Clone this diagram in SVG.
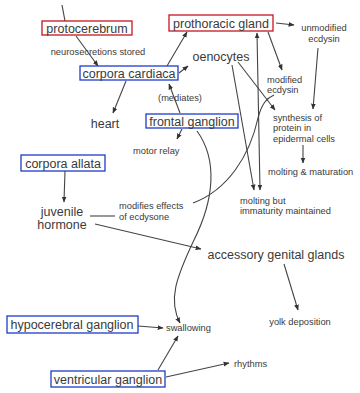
<svg xmlns="http://www.w3.org/2000/svg" width="360" height="393" viewBox="0 0 360 393">
<defs>
<marker id="ah" viewBox="0 0 10 10" refX="9" refY="5" markerWidth="6" markerHeight="6" orient="auto-start-reverse" markerUnits="userSpaceOnUse">
<path d="M0,1 L10,5 L0,9 z" fill="#333"/>
</marker>
<style>
.t{font-family:"Liberation Sans",Arial,sans-serif;fill:#3a3a3a;}
.big{font-size:12.5px;}
.sm{font-size:9.3px;}
.rb{fill:#fff;stroke:#c8141e;stroke-width:1.3;}
.bb{fill:#fff;stroke:#1e3cc8;stroke-width:1.3;}
.c{fill:none;stroke:#444;stroke-width:1.1;}
.a{marker-end:url(#ah);}
</style>
</defs>
<rect width="360" height="393" fill="#fff"/>
<g id="connectors">
<line class="c" x1="62" y1="5" x2="65" y2="21"/>
<line class="c a" x1="76" y1="36" x2="98" y2="66"/>
<line class="c a" x1="126" y1="81" x2="113" y2="113"/>
<line class="c a" x1="167" y1="66" x2="187" y2="32"/>
<line class="c a" x1="179" y1="73" x2="188" y2="66"/>
<line class="c a" x1="180" y1="113" x2="169" y2="84"/>
<line class="c a" x1="182" y1="129" x2="177" y2="139"/>
<line class="c a" x1="276" y1="23" x2="294" y2="25"/>
<line class="c a" x1="318" y1="48" x2="313" y2="109"/>
<line class="c a" x1="268" y1="32" x2="282" y2="70"/>
<line class="c a" x1="238" y1="62" x2="275" y2="110"/>
<line class="c a" x1="232" y1="65" x2="254" y2="190"/>
<path class="c a" d="M260,190 L257,33" marker-start="url(#ah)"/>
<path class="c" d="M193,203 C228,190 250,155 258,118 C262,103 267,98 274,95"/>
<path class="c a" d="M197,131 C218,160 214,200 194,240 C176,278 168,300 180,323"/>
<line class="c" x1="90" y1="216" x2="115" y2="216"/>
<line class="c a" x1="95" y1="224" x2="201" y2="249"/>
<line class="c a" x1="65" y1="171" x2="64" y2="202"/>
<line class="c a" x1="303" y1="145" x2="303" y2="163"/>
<line class="c a" x1="284" y1="264" x2="298" y2="310"/>
<line class="c a" x1="138" y1="326" x2="163" y2="328"/>
<line class="c a" x1="158" y1="370" x2="178" y2="336"/>
<line class="c a" x1="166" y1="377" x2="229" y2="363"/>
</g>
<g id="protocerebrum">
<rect class="rb" x="42" y="21" width="90" height="14"/>
<text class="t big" x="87" y="32.5" text-anchor="middle">protocerebrum</text>
</g>
<g id="neurosecretions"><text class="t sm" x="98" y="54.5" text-anchor="middle">neurosecretions stored</text></g>
<g id="corpora-cardiaca">
<rect class="bb" x="80" y="66" width="98" height="14"/>
<text class="t big" x="129" y="77.5" text-anchor="middle">corpora cardiaca</text>
</g>
<g id="heart"><text class="t big" x="105" y="127.5" text-anchor="middle">heart</text></g>
<g id="prothoracic-gland">
<rect class="rb" x="169" y="15" width="104" height="16"/>
<text class="t big" x="221" y="27.5" text-anchor="middle">prothoracic gland</text>
</g>
<g id="unmodified-ecdysin"><text class="t sm" x="324" y="30.5" text-anchor="middle">unmodified</text><text class="t sm" x="324" y="41.5" text-anchor="middle">ecdysin</text></g>
<g id="oenocytes"><text class="t big" x="221" y="60.5" text-anchor="middle">oenocytes</text></g>
<g id="modified-ecdysin"><text class="t sm" x="267" y="82.5">modified</text><text class="t sm" x="267" y="93">ecdysin</text></g>
<g id="mediates"><text class="t sm" x="180" y="100.5" text-anchor="middle">(mediates)</text></g>
<g id="frontal-ganglion">
<rect class="bb" x="146" y="114" width="92" height="14"/>
<text class="t big" x="192" y="125.5" text-anchor="middle">frontal ganglion</text>
</g>
<g id="motor-relay"><text class="t sm" x="133" y="153.5">motor relay</text></g>
<g id="synthesis"><text class="t sm" x="273" y="120.5">synthesis of</text><text class="t sm" x="273" y="130.5">protein in</text><text class="t sm" x="273" y="141.5">epidermal cells</text></g>
<g id="molting-maturation"><text class="t sm" x="268" y="174.5">molting &amp; maturation</text></g>
<g id="corpora-allata">
<rect class="bb" x="21" y="155" width="84" height="16"/>
<text class="t big" x="63" y="167.5" text-anchor="middle">corpora allata</text>
</g>
<g id="molting-immaturity"><text class="t sm" x="240" y="203.5">molting but</text><text class="t sm" x="240" y="213.5">immaturity maintained</text></g>
<g id="modifies-effects"><text class="t sm" x="119" y="208.5">modifies effects</text><text class="t sm" x="119" y="219.5">of ecdysone</text></g>
<g id="juvenile-hormone"><text class="t big" x="62" y="215.5" text-anchor="middle">juvenile</text><text class="t big" x="62" y="228.5" text-anchor="middle">hormone</text></g>
<g id="accessory-genital-glands"><text class="t big" x="276" y="258.5" text-anchor="middle">accessory genital glands</text></g>
<g id="yolk-deposition"><text class="t sm" x="300" y="324.5" text-anchor="middle">yolk deposition</text></g>
<g id="hypocerebral-ganglion">
<rect class="bb" x="7" y="316" width="131" height="17"/>
<text class="t big" x="72" y="329" text-anchor="middle">hypocerebral ganglion</text>
</g>
<g id="swallowing"><text class="t sm" x="166" y="331">swallowing</text></g>
<g id="ventricular-ganglion">
<rect class="bb" x="51" y="371" width="114" height="16"/>
<text class="t big" x="108" y="383.5" text-anchor="middle">ventricular ganglion</text>
</g>
<g id="rhythms"><text class="t sm" x="234" y="366.5">rhythms</text></g>
</svg>
